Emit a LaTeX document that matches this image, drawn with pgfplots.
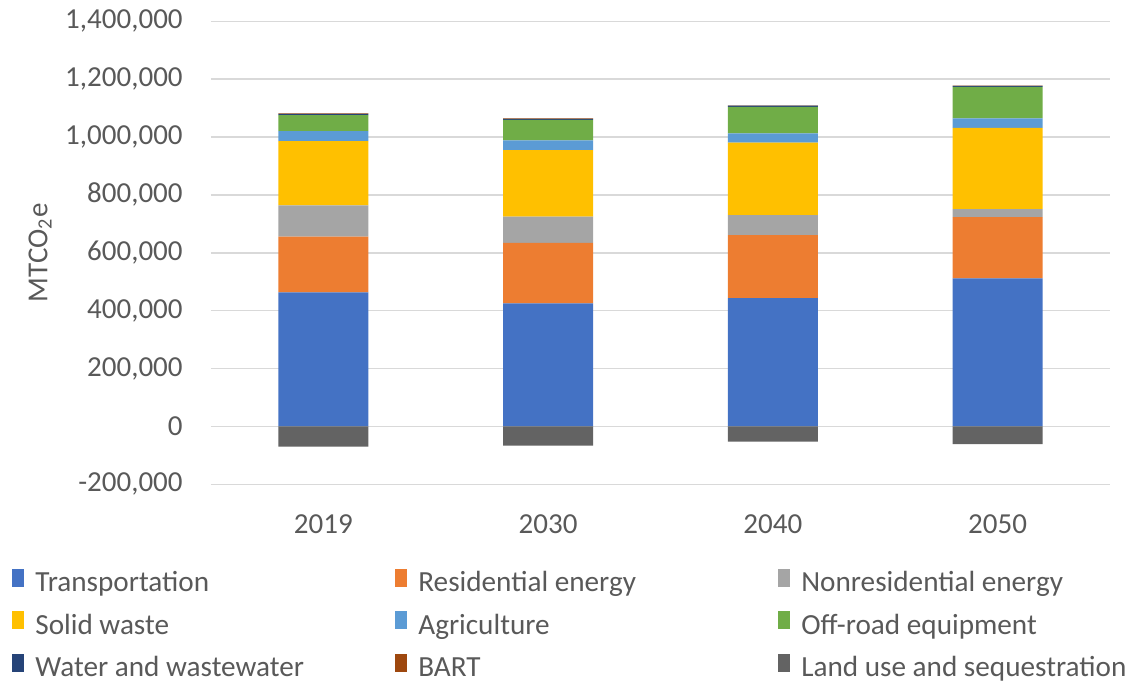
\documentclass[border=0pt]{standalone}
\usepackage{fontspec}
\setmainfont{Carlito}
\usepackage{pgfplots}
\pgfplotsset{compat=1.18}
\definecolor{cTr}{HTML}{4472C4}
\definecolor{cRe}{HTML}{ED7D31}
\definecolor{cNr}{HTML}{A5A5A5}
\definecolor{cSw}{HTML}{FFC000}
\definecolor{cAg}{HTML}{5B9BD5}
\definecolor{cOr}{HTML}{70AD47}
\definecolor{cWw}{HTML}{264478}
\definecolor{cBa}{HTML}{9E480E}
\definecolor{cLu}{HTML}{636363}
\definecolor{gridc}{HTML}{D9D9D9}
\definecolor{textc}{HTML}{595959}
\newcommand{\lgent}[1]{\hspace*{5.5pt}\makebox[180pt][l]{\rule[-6.25pt]{0pt}{21.5pt}#1}}
\pgfplotsset{base/.style={
  at={(105.5pt,99.35pt)}, anchor=south west,
  scale only axis, width=449.5pt, height=231.5pt,
  ybar stacked, bar width=45pt,
  xmin=-0.5, xmax=3.5, ymin=-200000, ymax=1400000}}
\begin{document}
\begin{tikzpicture}
\useasboundingbox (0,0) rectangle (565.5pt,341.5pt);
\begin{axis}[
  base,
  xtick={0,1,2,3}, xticklabels={2019,2030,2040,2050},
  ytick={-200000,0,200000,400000,600000,800000,1000000,1200000,1400000},
  ymajorgrids, grid style={color=gridc, line width=0.75pt},
  axis line style={draw=none},
  major tick length=0pt,
  scaled y ticks=false,
  /pgf/number format/.cd, fixed, 1000 sep={,}, assume math mode=true,
  /pgfplots/.cd,
  tick label style={color=textc, font=\fontsize{14.5}{17.4}\selectfont},
  yticklabel style={anchor=east, inner sep=0pt, xshift=-14pt},
  xticklabel style={anchor=north, inner sep=0pt, yshift=-15pt},
  ylabel={MTCO\textsubscript{2}e},
  ylabel style={at={(axis description cs:-0.1902,0.5)}, anchor=center, color=textc, font=\fontsize{14.5}{17.4}\selectfont},
  legend columns=3,
  legend style={at={(axis description cs:-0.2214,-0.1646)}, anchor=north west, draw=none, fill=none, inner sep=0pt, row sep=4.6pt, column sep=0pt, font=\fontsize{14.6}{17.5}\selectfont, text=textc, nodes={inner sep=0pt}},
  legend cell align=left,
  legend image code/.code={\fill[#1, draw=none] (0pt,-4.5pt) rectangle (6pt,4.5pt);},
]
\addplot[fill=cTr, draw=none] coordinates {(0,463000) (1,425500) (2,443000) (3,511500)};
\addlegendentry{\lgent{Transportation}}
\addplot[fill=cRe, draw=none] coordinates {(0,193000) (1,209000) (2,218000) (3,211500)};
\addlegendentry{\lgent{Residential energy}}
\addplot[fill=cNr, draw=none] coordinates {(0,108000) (1,90600) (2,69000) (3,27600)};
\addlegendentry{\lgent{Nonresidential energy}}
\addplot[fill=cSw, draw=none] coordinates {(0,222000) (1,230000) (2,250300) (3,281400)};
\addlegendentry{\lgent{Solid waste}}
\addplot[fill=cAg, draw=none] coordinates {(0,34600) (1,33500) (2,32400) (3,32400)};
\addlegendentry{\lgent{Agriculture}}
\addplot[fill=cOr, draw=none] coordinates {(0,55200) (1,71100) (2,91700) (3,109000)};
\addlegendentry{\lgent{Off-road equipment}}
\addplot[fill=cWw, draw=none] coordinates {(0,4500) (1,3000) (2,4000) (3,3000)};
\addlegendentry{\lgent{Water and wastewater}}
\addplot[fill=cBa, draw=none] coordinates {(0,1300) (1,1500) (2,1300) (3,1300)};
\addlegendentry{\lgent{BART}}
\addlegendimage{fill=cLu, draw=none}
\addlegendentry{\lgent{Land use and sequestration}}
\end{axis}
\begin{axis}[base, hide axis]
\addplot[fill=cLu, draw=none] coordinates {(0,-70000) (1,-66500) (2,-53000) (3,-61000)};
\end{axis}
\end{tikzpicture}
\end{document}
